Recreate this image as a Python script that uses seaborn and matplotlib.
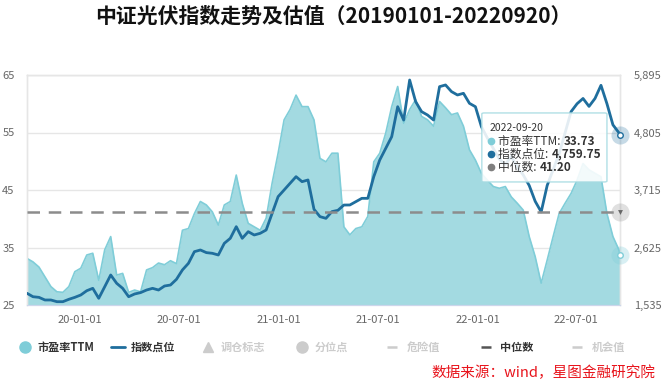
import pandas as pd
import numpy as np
import matplotlib
matplotlib.use("Agg")
import matplotlib.pyplot as plt
import matplotlib.dates as mdates
from matplotlib.lines import Line2D
from matplotlib.patches import FancyBboxPatch
import seaborn as sns

# 采样日期（约11天一个点）+ 最新交易日
dates = list(pd.date_range("2019-09-25", periods=100, freq="11D")) + [pd.Timestamp("2022-09-20")]

# 市盈率TTM（左轴）
pe_ttm = [33.1, 32.5, 31.6, 29.9, 28.2, 27.3, 27.2, 28.2, 30.8, 31.4,
          33.7, 34.0, 29.3, 34.6, 36.9, 30.2, 30.5, 27.2, 27.6, 27.3,
          31.1, 31.5, 32.3, 32.0, 32.7, 32.2, 38.0, 38.3, 40.9, 43.0,
          42.4, 41.2, 38.9, 42.4, 43.0, 47.6, 42.7, 39.2, 38.6, 38.0,
          40.1, 46.2, 51.4, 57.2, 59.0, 61.5, 59.5, 59.5, 57.2, 50.5,
          49.9, 51.4, 51.4, 38.6, 37.2, 38.3, 38.6, 40.4, 49.9, 51.4,
          54.9, 59.5, 63.0, 56.6, 59.0, 60.7, 57.8, 57.2, 56.1, 60.4,
          59.3, 58.1, 58.4, 56.1, 52.0, 50.2, 47.9, 46.7, 45.6, 45.3,
          45.6, 43.8, 42.7, 41.5, 36.9, 33.4, 28.8, 32.8, 36.9, 40.9,
          42.7, 44.4, 46.7, 49.6, 48.5, 47.9, 47.3, 40.9, 36.9, 34.6,
          33.73]

# 指数点位（右轴）
index_pts = [1757, 1692, 1680, 1630, 1630, 1598, 1598, 1643, 1680, 1725,
             1806, 1851, 1662, 1882, 2104, 1946, 1851, 1692, 1744, 1770,
             1819, 1851, 1819, 1895, 1914, 2022, 2200, 2325, 2546, 2578,
             2528, 2515, 2483, 2704, 2799, 3020, 2799, 2925, 2862, 2894,
             2957, 3273, 3589, 3715, 3842, 3968, 3873, 3905, 3350, 3210,
             3178, 3305, 3330, 3430, 3431, 3494, 3557, 3557, 3968, 4284,
             4505, 4726, 5294, 5041, 5800, 5390, 5200, 5136, 5041, 5674,
             5706, 5580, 5516, 5548, 5358, 5294, 4915, 4700, 4500, 4300,
             4200, 4350, 4150, 4000, 3800, 3500, 3300, 3800, 4100, 4400,
             4800, 5200, 5350, 5450, 5300, 5450, 5700, 5350, 4950, 4800,
             4759.75]

pe_median = 41.20

left_ticks = [25, 35, 45, 55, 65]
right_ticks = [1535, 2625, 3715, 4805, 5895]
x_ticks = ["2020-01-01", "2020-07-01", "2021-01-01", "2021-07-01", "2022-01-01", "2022-07-01"]

legend_labels = ["市盈率TTM", "指数点位", "调仓标志", "分位点", "危险值", "中位数", "机会值"]

sns.set_style("white")
plt.rcParams['font.family'] = ['Noto Sans CJK SC', 'DejaVu Sans']
plt.rcParams['axes.unicode_minus'] = False

c_pe_fill = "#a3dae1"
c_pe_line = "#7fcdd8"
c_idx = "#1f6e9d"
c_med = "#8c8c8c"
c_grid = "#e6e6e6"
c_axis = "#ccd6eb"
c_lbl = "#666666"
c_off = "#cccccc"

df = pd.DataFrame({"date": dates, "pe": pe_ttm, "idx": index_pts})

fig = plt.figure(figsize=(6.66, 3.84), dpi=100)
ax = fig.add_axes([27 / 666, 1 - 305 / 384, 593 / 666, 230 / 384])
ax2 = ax.twinx()

# 市盈率面积
ax.fill_between(df["date"], 25, df["pe"], color=c_pe_fill, lw=0, zorder=2)
sns.lineplot(data=df, x="date", y="pe", ax=ax, color=c_pe_line, lw=1.2, zorder=3)

# 指数点位
sns.lineplot(data=df, x="date", y="idx", ax=ax2, color=c_idx, lw=2.0, zorder=3)

# 中位数虚线（左轴单位）
ax2.plot([df["date"].iloc[0], df["date"].iloc[-1]], [pe_median, pe_median],
         transform=ax.transData, color=c_med, lw=1.8, dashes=(5, 3.5), zorder=4)

ax.set_xlim(df["date"].iloc[0], df["date"].iloc[-1])
ax.set_ylim(25, 65)
ax2.set_ylim(1535, 5895)
ax.set_yticks(left_ticks)
ax2.set_yticks(right_ticks)
ax2.set_yticklabels([f"{v:,}" for v in right_ticks])
ax.set_xticks(pd.to_datetime(x_ticks))
ax.xaxis.set_major_formatter(mdates.DateFormatter("%y-%m-%d"))

ax.set_xlabel("")
ax.set_ylabel("")
ax2.set_xlabel("")
ax2.set_ylabel("")

ax.grid(axis="y", color=c_grid, lw=1, zorder=0)
ax.set_axisbelow(True)
ax2.grid(False)

for a in (ax, ax2):
    for side in ("top", "left", "right"):
        a.spines[side].set_color(c_grid)
        a.spines[side].set_linewidth(1)
    a.spines["bottom"].set_color(c_axis)
    a.tick_params(axis="y", length=0, labelsize=8, labelcolor=c_lbl)
ax.tick_params(axis="y", pad=9)
ax2.tick_params(axis="y", pad=10)
ax.tick_params(axis="x", length=5, color=c_axis, labelsize=8, labelcolor=c_lbl, pad=2)

# 最新值标记
last_d = df["date"].iloc[-1]
ax2.plot([last_d], [index_pts[-1]], marker="o", ms=13, color=c_idx, alpha=0.25, mew=0, clip_on=False, zorder=8)
ax2.plot([last_d], [index_pts[-1]], marker="o", ms=4, mfc="white", mec=c_idx, mew=1, clip_on=False, zorder=9)
ax2.plot([last_d], [pe_ttm[-1]], transform=ax.transData, marker="o", ms=13, color=c_pe_line, alpha=0.3, mew=0, clip_on=False, zorder=8)
ax2.plot([last_d], [pe_ttm[-1]], transform=ax.transData, marker="o", ms=4, mfc="white", mec=c_pe_line, mew=1, clip_on=False, zorder=9)
ax2.plot([last_d], [pe_median], transform=ax.transData, marker="o", ms=13, color="#999999", alpha=0.3, mew=0, clip_on=False, zorder=8)
ax2.plot([last_d], [pe_median], transform=ax.transData, marker="v", ms=3.5, color="#666666", mew=0, clip_on=False, zorder=9)

# 提示框
box = FancyBboxPatch((0.767, 0.535), 0.211, 0.30, boxstyle="round,pad=0,rounding_size=0.004",
                     transform=ax2.transAxes, facecolor="white", alpha=0.88,
                     edgecolor="#a6dbe2", lw=1, zorder=10)
ax2.add_patch(box)
ax2.text(0.780, 0.770, last_d.strftime("%Y-%m-%d"), transform=ax2.transAxes, fontsize=7.5,
         color="#333333", va="center", zorder=11)
tip_rows = [("市盈率TTM: ", f"{pe_ttm[-1]:.2f}", c_pe_line),
            ("指数点位: ", f"{index_pts[-1]:,.2f}", c_idx),
            ("中位数: ", f"{pe_median:.2f}", "#7f7f7f")]
for k, (lab, val, col) in enumerate(tip_rows):
    yy = 0.713 - k * 0.057
    ax2.plot([0.783], [yy], marker="o", ms=4.5, color=col, transform=ax2.transAxes, clip_on=False, zorder=11)
    t = ax2.text(0.795, yy, lab, transform=ax2.transAxes, fontsize=8.5, color="#333333", va="center", zorder=11)
    ax2.annotate(val, xy=(1, 0.5), xycoords=t, va="center", fontsize=8.5, fontweight="bold",
                 color="#333333", zorder=11)

# 图例：每项固定位置（像 Highcharts 的等宽图例项）
dashdot = (0, (4, 2, 1.2, 2))
handles = [Line2D([], [], ls="", marker="o", ms=8, color=c_pe_line),
           Line2D([], [], color=c_idx, lw=2),
           Line2D([], [], ls="", marker="^", ms=7, color=c_off),
           Line2D([], [], ls="", marker="o", ms=8, color=c_off),
           Line2D([], [], color=c_off, lw=1.8, ls=dashdot),
           Line2D([], [], color="#555555", lw=1.8, ls=dashdot),
           Line2D([], [], color=c_off, lw=1.8, ls=dashdot)]
label_colors = ["#333333", "#333333", c_off, c_off, c_off, "#333333", c_off]
item_left = [18, 111, 201, 295, 387, 481, 572]
for h, lab, col, xl in zip(handles, legend_labels, label_colors, item_left):
    lg = fig.legend([h], [lab], loc="center left", bbox_to_anchor=(xl / 666, 1 - 347 / 384),
                    frameon=False, handlelength=1.3, handletextpad=0.45, borderpad=0,
                    borderaxespad=0, prop={"weight": "bold", "size": 8})
    lg.get_texts()[0].set_color(col)

fig.text(0.5, 0.958, "中证光伏指数走势及估值（20190101-20220920）", ha="center", va="center",
         fontsize=15, fontweight="bold", color="#111111")
fig.text(0.984, 0.030, "数据来源：wind，星图金融研究院", ha="right", va="center",
         fontsize=10.5, style="italic", color="#e8141c")

fig.savefig("out.png", dpi=100)
